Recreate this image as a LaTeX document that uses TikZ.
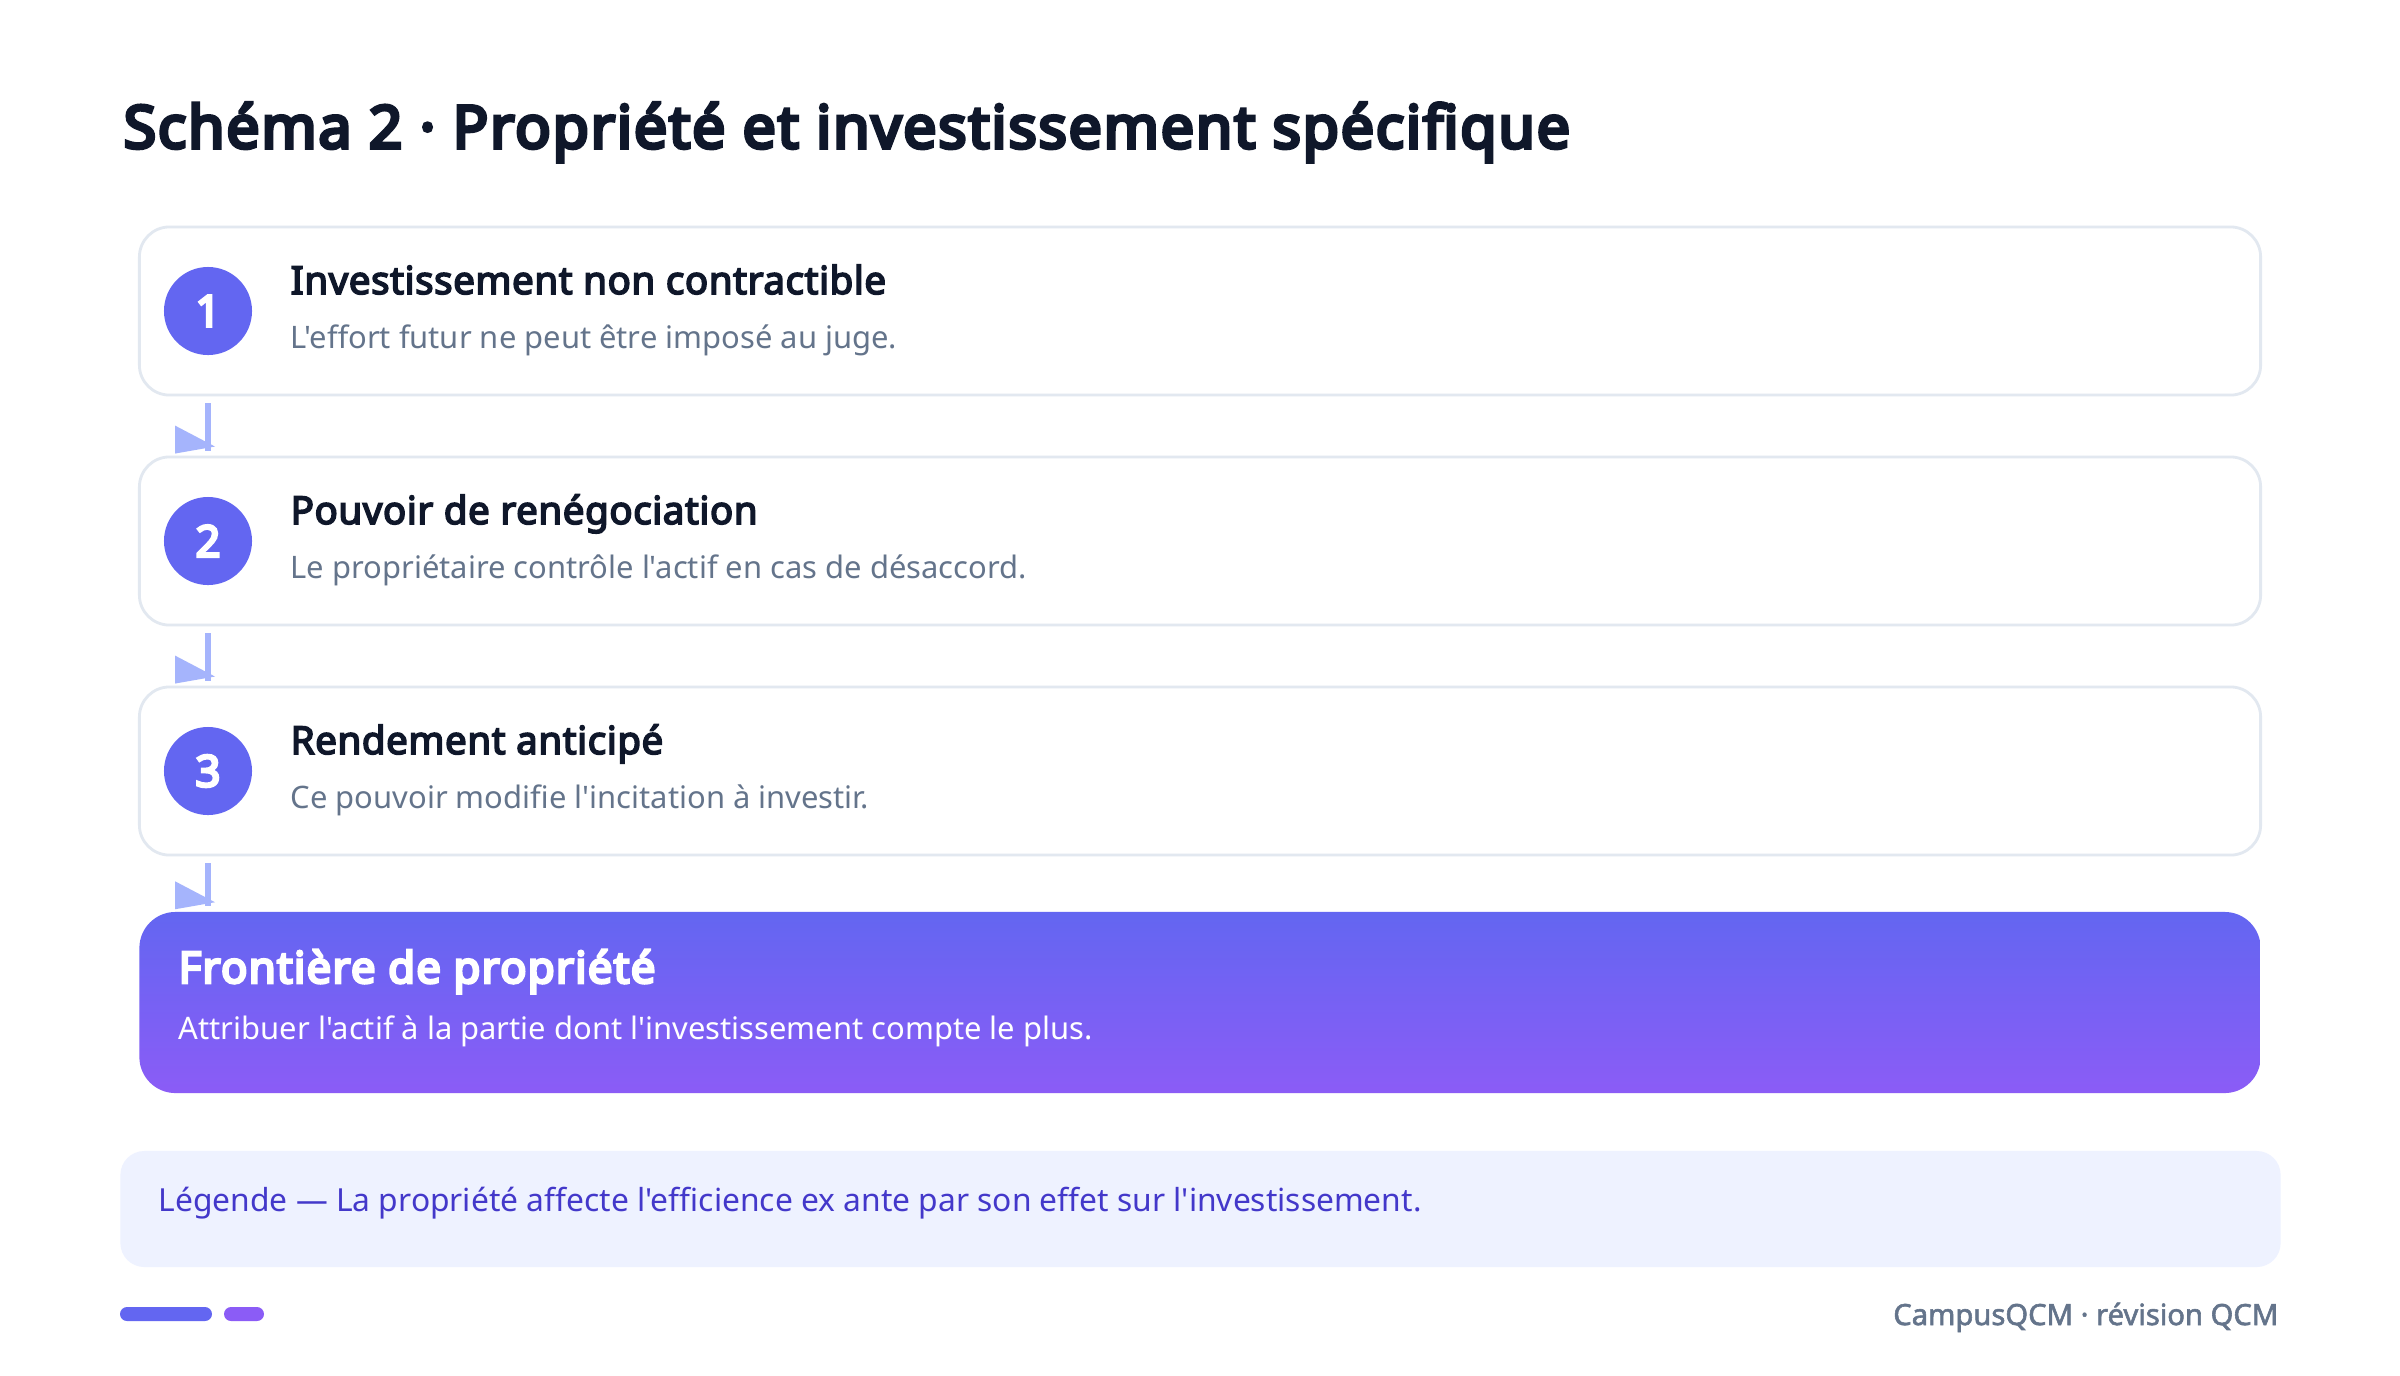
\documentclass[tikz,border=0pt]{standalone}
\usepackage{fontspec}
\setmainfont{Noto Sans}[Ligatures=TeXOff, BoldFont={Noto Sans}, BoldFeatures={FakeBold=4.2, LetterSpace=1.5}]
\newfontfamily\heavyfont{Noto Sans}[Ligatures=TeXOff, FakeBold=6, LetterSpace=3]
\newfontfamily\semifont{Noto Sans}[Ligatures=TeXOff, FakeBold=2]
\usetikzlibrary{positioning}

\definecolor{ink}{HTML}{0F172A}
\definecolor{slate}{HTML}{64748B}
\definecolor{cardline}{HTML}{E2E8F0}
\definecolor{indigo}{HTML}{6366F1}
\definecolor{violet}{HTML}{8B5CF6}
\definecolor{flowc}{HTML}{A5B4FC}
\definecolor{legendbg}{HTML}{EEF2FF}
\definecolor{legendtxt}{HTML}{4338CA}

\tikzset{
  card/.style={draw=cardline, line width=0.8pt, fill=white, rounded corners=0.3cm,
    minimum width=21.2cm, minimum height=1.68cm, inner sep=0pt},
  num/.style={circle, fill=indigo, text=white, minimum size=0.88cm, inner sep=0pt,
    font=\fontsize{12.4pt}{14pt}\selectfont\heavyfont},
  head/.style={anchor=base west, inner sep=0pt, text=ink,
    font=\fontsize{10.95pt}{13pt}\selectfont\bfseries},
  sub/.style={anchor=base west, inner sep=0pt, text=slate,
    font=\fontsize{8.8pt}{11pt}\selectfont},
  flow/.style={draw=flowc, line width=1.7pt, shorten <=0.07cm, shorten >=0.05cm},
}

\begin{document}
\begin{tikzpicture}[x=0.01cm, y=-0.01cm]
      % canvas is 2400 x 1375 px, y grows downwards
      \useasboundingbox[fill=white] (0,0) rectangle (2400,1375);

      \node[anchor=base west, inner sep=0pt, text=ink, font=\fontsize{16.8pt}{20pt}\selectfont\heavyfont]
        (title) at (123,148) {Schéma 2 · Propriété et investissement spécifique};

      % steps
      \node[card] (c1) at (1200,311) {};
      \node[num] (n1) at (208,311) {1};
      \node[head] (h1) at (290,294) {Investissement non contractible};
      \node[sub] (s1) at (290,348) {L'effort futur ne peut être imposé au juge.};

      \node[card] (c2) at (1200,541) {};
      \node[num] (n2) at (208,541) {2};
      \node[head] (h2) at (290,524) {Pouvoir de renégociation};
      \node[sub] (s2) at (290,578) {Le propriétaire contrôle l'actif en cas de désaccord.};

      \node[card] (c3) at (1200,771) {};
      \node[num] (n3) at (208,771) {3};
      \node[head] (h3) at (290,754) {Rendement anticipé};
      \node[sub] (s3) at (290,808) {Ce pouvoir modifie l'incitation à investir.};

      % conclusion
      \node[rounded corners=0.36cm, top color=indigo, bottom color=violet, inner sep=0pt,
        minimum width=21.2cm, minimum height=1.81cm] (fin) at (1200,1002.5) {};
      \node[anchor=base west, inner sep=0pt, text=white, font=\fontsize{12.4pt}{15pt}\selectfont\heavyfont]
        (hf) at (178,983) {Frontière de propriété};
      \node[anchor=base west, inner sep=0pt, text=white, font=\fontsize{8.8pt}{11pt}\selectfont]
        (sf) at (178,1039) {Attribuer l'actif à la partie dont l'investissement compte le plus.};

      % connectors
      \draw[flow] (n1 |- c1.south) -- (n1 |- c2.north);
      \fill[flowc] (n1 |- c2.north) ++(-33,-30) -- ++(40,21) -- ++(-40,7) -- cycle;
      \draw[flow] (n2 |- c2.south) -- (n2 |- c3.north);
      \fill[flowc] (n2 |- c3.north) ++(-33,-30) -- ++(40,21) -- ++(-40,7) -- cycle;
      \draw[flow] (n3 |- c3.south) -- (n3 |- fin.north);
      \fill[flowc] (n3 |- fin.north) ++(-33,-30) -- ++(40,21) -- ++(-40,7) -- cycle;

      % legend
      \node[fill=legendbg, rounded corners=0.24cm, inner sep=0pt,
        minimum width=21.59cm, minimum height=1.16cm] (leg) at (1200.5,1209) {};
      \node[anchor=base west, inner sep=0pt, text=legendtxt, font=\fontsize{9.04pt}{11pt}\selectfont]
        (lt) at (158,1211) {Légende — La propriété affecte l'efficience ex ante par son effet sur l'investissement.};

      % footer
      \fill[indigo, rounded corners=0.07cm] (120,1307) rectangle (212,1321);
      \fill[violet, rounded corners=0.07cm] (224,1307) rectangle (264,1321);
      \node[anchor=base east, inner sep=0pt, text=slate, font=\fontsize{8.3pt}{11pt}\selectfont\semifont]
        (ft) at (2279,1325) {CampusQCM · révision QCM};
    \end{tikzpicture}
\end{document}
